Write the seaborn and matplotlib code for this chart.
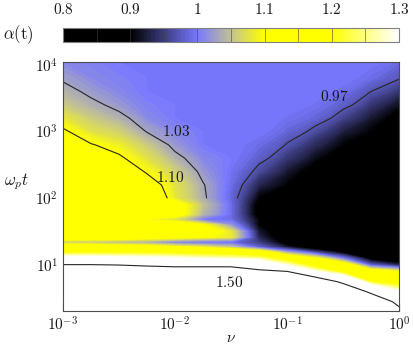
import numpy as np
import matplotlib
matplotlib.use("Agg")
import matplotlib.pyplot as plt
import seaborn as sns
from matplotlib.colors import LinearSegmentedColormap, Normalize
from matplotlib.cm import ScalarMappable
from matplotlib.ticker import FuncFormatter, NullFormatter, LogLocator

# grid (log10 of nu and of omega_p t)
nu_exp = [-3, -2.75, -2.5, -2.25, -2, -1.75, -1.5, -1.25, -1, -0.75, -0.5, -0.25, 0]
t_exp = [0.3, 0.45, 0.6, 0.75, 0.9, 1.0, 1.1, 1.2, 1.27, 1.34, 1.42, 1.5, 1.6, 1.68,
         1.76, 1.9, 2.0, 2.2, 2.4, 2.6, 2.8, 3.0, 3.2, 3.4, 3.6, 3.8, 4.05]

# alpha(t) estimated per nu column (bottom -> top)
col_m300 = [2.0, 1.85, 1.72, 1.62, 1.55, 1.51, 1.33, 1.18, 1.14, 1.06, 1.14, 1.16, 1.17, 1.16,
            1.17, 1.17, 1.17, 1.17, 1.16, 1.15, 1.13, 1.105, 1.08, 1.055, 1.04, 1.025, 1.01]
col_m275 = [1.98, 1.84, 1.71, 1.61, 1.55, 1.51, 1.33, 1.18, 1.14, 1.05, 1.14, 1.16, 1.17, 1.15,
            1.17, 1.17, 1.17, 1.16, 1.15, 1.13, 1.102, 1.075, 1.055, 1.037, 1.022, 1.012, 1.005]
col_m250 = [1.96, 1.83, 1.7, 1.6, 1.55, 1.5, 1.32, 1.18, 1.13, 1.04, 1.14, 1.16, 1.17, 1.13,
            1.16, 1.17, 1.17, 1.15, 1.13, 1.105, 1.085, 1.06, 1.038, 1.02, 1.01, 1.005, 1.0]
col_m225 = [1.94, 1.82, 1.69, 1.6, 1.55, 1.49, 1.31, 1.18, 1.12, 1.03, 1.13, 1.15, 1.16, 1.09,
            1.15, 1.16, 1.14, 1.12, 1.095, 1.075, 1.055, 1.028, 1.012, 1.005, 1.0, 1.0, 1.0]
col_m200 = [1.92, 1.8, 1.68, 1.6, 1.55, 1.48, 1.3, 1.17, 1.1, 1.0, 1.12, 1.15, 1.15, 1.07,
            1.12, 1.12, 1.08, 1.075, 1.06, 1.038, 1.02, 1.01, 1.0, 1.0, 1.0, 1.0, 1.0]
col_m175 = [1.9, 1.78, 1.67, 1.6, 1.55, 1.48, 1.28, 1.16, 1.08, 0.99, 1.1, 1.12, 1.1, 1.0,
            1.04, 1.05, 1.035, 1.032, 1.02, 1.01, 1.0, 1.0, 1.0, 1.0, 1.0, 1.0, 1.0]
col_m150 = [1.88, 1.77, 1.66, 1.6, 1.55, 1.48, 1.27, 1.15, 1.05, 0.99, 1.08, 1.08, 1.02, 0.99,
            0.99, 0.99, 0.985, 0.99, 0.995, 1.0, 1.0, 1.0, 1.0, 1.0, 1.0, 1.0, 1.0]
col_m125 = [1.86, 1.75, 1.65, 1.58, 1.53, 1.42, 1.25, 1.12, 0.98, 0.95, 0.93, 0.92, 0.9, 0.9,
            0.88, 0.88, 0.9, 0.93, 0.96, 0.98, 0.99, 1.0, 1.0, 1.0, 1.0, 1.0, 1.0]
col_m100 = [1.84, 1.74, 1.64, 1.57, 1.51, 1.28, 1.16, 1.02, 0.92, 0.88, 0.86, 0.85, 0.85, 0.85,
            0.85, 0.85, 0.85, 0.9, 0.92, 0.945, 0.968, 0.985, 0.995, 1.0, 1.0, 1.0, 1.0]
col_m075 = [1.82, 1.76, 1.7, 1.65, 1.3, 1.16, 1.1, 0.95, 0.86, 0.85, 0.85, 0.85, 0.85, 0.85,
            0.85, 0.85, 0.85, 0.85, 0.88, 0.91, 0.935, 0.962, 0.985, 0.995, 1.0, 1.0, 1.0]
col_m050 = [1.8, 1.75, 1.7, 1.45, 1.18, 1.14, 1.0, 0.88, 0.85, 0.85, 0.85, 0.85, 0.85, 0.85,
            0.85, 0.85, 0.85, 0.85, 0.85, 0.86, 0.9, 0.925, 0.955, 0.98, 0.993, 1.0, 1.0]
col_m025 = [1.82, 1.7, 1.45, 1.2, 1.14, 0.98, 0.88, 0.85, 0.85, 0.85, 0.85, 0.85, 0.85, 0.85,
            0.85, 0.85, 0.85, 0.85, 0.85, 0.85, 0.87, 0.9, 0.92, 0.945, 0.97, 0.99, 1.0]
col_p000 = [1.57, 1.42, 1.3, 1.16, 1.1, 0.93, 0.85, 0.85, 0.85, 0.85, 0.85, 0.85, 0.85, 0.85,
            0.85, 0.85, 0.85, 0.85, 0.85, 0.85, 0.85, 0.85, 0.88, 0.91, 0.945, 0.973, 0.99]

cbar_ticks = [0.8, 0.9, 1.0, 1.1, 1.2, 1.3]
cbar_labels = ['0.8', '0.9', '1', '1.1', '1.2', '1.3']
line_levels = [0.97, 1.03, 1.10]
label_text = ['1.03', '1.10', '0.97', '1.50']
label_nu = [0.0102, 0.0090, 0.268, 0.0303]
label_t = [986, 208, 3300, 5.56]

sns.set_theme(style="ticks")
plt.rcParams['font.family'] = ['DejaVu Serif']
plt.rcParams['mathtext.fontset'] = 'cm'

nu = 10.0 ** np.array(nu_exp)
t = 10.0 ** np.array(t_exp)
alpha = np.column_stack([col_m300, col_m275, col_m250, col_m225, col_m200, col_m175, col_m150,
                         col_m125, col_m100, col_m075, col_m050, col_m025, col_p000])

cmap = LinearSegmentedColormap.from_list('alpha', [
    (0.0, (0, 0, 0)), (0.2, (0, 0, 0)), (0.4, (0.47, 0.47, 1.0)),
    (0.5, (0.76, 0.76, 0.58)), (0.6, (1, 1, 0)), (0.8, (1, 1, 0)), (1.0, (1, 1, 1))])
cmap.set_over('white')
cmap.set_under('black')
norm = Normalize(0.8, 1.3)

fig = plt.figure(figsize=(4.13, 3.49), dpi=100)
ax = fig.add_axes([0.1525, 0.1089, 0.8136, 0.7135])

ax.contourf(nu, t, alpha, levels=np.linspace(0.8, 1.3, 121), cmap=cmap, norm=norm, extend='both')
k = t_exp.index(2.0)
ax.contour(nu, t[k:], alpha[k:], levels=line_levels, colors='0.15', linewidths=0.8)
ax.contour(nu, t, alpha, levels=[1.5], colors='0.15', linewidths=0.8)

for s, x, y in zip(label_text, label_nu, label_t):
    ax.text(x, y, '$' + s + '$', fontsize=11, ha='center', va='center', color='0.1')

ax.set_xscale('log')
ax.set_yscale('log')
ax.set_xlim(1e-3, 1)
ax.set_ylim(2.05, 1.1e4)
fmt = FuncFormatter(lambda v, p: r'$10^{%d}$' % int(round(np.log10(v))))
ax.xaxis.set_major_formatter(fmt)
ax.yaxis.set_major_formatter(fmt)
ax.xaxis.set_minor_formatter(NullFormatter())
ax.yaxis.set_minor_formatter(NullFormatter())
ax.yaxis.set_major_locator(LogLocator(base=10, numticks=10))
ax.tick_params(which='both', direction='in', top=False, right=False, color='0.2', width=0.8,
               labelsize=11, labelcolor='0.1')
ax.tick_params(which='major', length=6)
ax.tick_params(which='minor', length=3.5)
for sp in ax.spines.values():
    sp.set_color('0.3')
    sp.set_linewidth(0.8)

ax.set_xlabel(r'$\nu$', fontsize=11, color='0.1')
ax.xaxis.set_label_coords(0.5, -0.11)
ax.xaxis.label.set_va('center')
ax.set_ylabel(r'$\omega_p t$', fontsize=12, rotation=0, color='0.1')
ax.yaxis.set_label_coords(-0.14, 0.52)
ax.yaxis.label.set_va('center')
ax.yaxis.label.set_ha('center')

cax = fig.add_axes([0.1525, 0.8797, 0.8136, 0.0401])
cb = fig.colorbar(ScalarMappable(norm=norm, cmap=cmap), cax=cax, orientation='horizontal')
cb.set_ticks(cbar_ticks)
cb.set_ticklabels(['$' + s + '$' for s in cbar_labels])
cax.xaxis.set_ticks_position('top')
cax.tick_params(length=0, labelsize=11, pad=8, labelcolor='0.1')
cb.outline.set_edgecolor('0.5')
cb.outline.set_linewidth(0.8)
for v in [0.85, 0.9, 0.95, 1.0, 1.05, 1.1, 1.15, 1.2, 1.25]:
    cax.axvline(v, color='0.25', lw=0.7, alpha=0.55)

fig.text(18 / 413, 1 - 35 / 349, r'$\alpha(\mathrm{t})$', fontsize=12, ha='center', va='center',
         color='0.1')

fig.savefig('out.png', dpi=100)
